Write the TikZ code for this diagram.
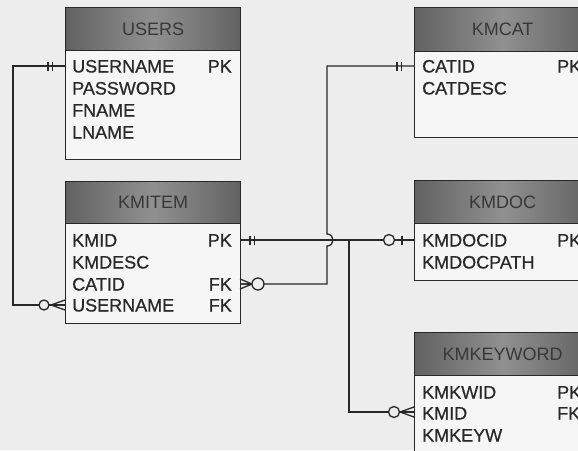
\documentclass[tikz,border=0pt]{standalone}
\usepackage{fontspec}
\setmainfont{Liberation Sans}
\newfontfamily\rowfont[BoldFont={Liberation Sans},BoldFeatures={FakeBold=0.6}]{Liberation Sans}
\usetikzlibrary{calc}
\definecolor{paper}{HTML}{EDEDED}
\definecolor{ink}{HTML}{282828}
\definecolor{boxfill}{HTML}{F6F6F6}
\definecolor{hdA}{HTML}{626262}
\definecolor{hdB}{HTML}{909090}
\definecolor{hdtext}{HTML}{383838}
\begin{document}
\begin{tikzpicture}[x=1pt,y=-1pt,
  entbox/.style={draw=ink,line width=1.3pt,fill=boxfill,anchor=north west,inner sep=0pt},
  hdrbox/.style={draw=ink,line width=1.3pt,anchor=north west,inner sep=0pt,left color=hdA,right color=hdA,middle color=hdB,text=hdtext,font=\fontsize{18}{18}\selectfont},
  fld/.style={anchor=west,inner sep=0pt,text height=13pt,text depth=0pt,text=ink,font=\rowfont\bfseries\fontsize{18}{18}\selectfont},
  keyfld/.style={fld,anchor=east},
  conn/.style={draw=ink,line width=1.3pt},
  ring/.style={draw=ink,line width=1.3pt,fill=paper}]
\useasboundingbox (0,0) rectangle (578,450);
\fill[paper] (0,0) rectangle (578,450);
\clip (0,0) rectangle (578,450);

% USERS
\node[entbox,minimum width=175pt,minimum height=152pt] (users) at (65,7) {};
\node[hdrbox,minimum width=175pt,minimum height=43pt] (usersh) at (65,7) {USERS};
\node[fld] (u1) at (72,66) {USERNAME};
\node[keyfld] (u1k) at (232,66) {PK};
\node[fld] (u2) at (72,88) {PASSWORD};
\node[fld] (u3) at (72,110) {FNAME};
\node[fld] (u4) at (72,132) {LNAME};

% KMITEM
\node[entbox,minimum width=175pt,minimum height=142pt] (kmitem) at (65,181) {};
\node[hdrbox,minimum width=175pt,minimum height=42pt] (kmitemh) at (65,181) {KMITEM};
\node[fld] (i1) at (72,240) {KMID};
\node[keyfld] (i1k) at (232,240) {PK};
\node[fld] (i2) at (72,262) {KMDESC};
\node[fld] (i3) at (72,284) {CATID};
\node[keyfld] (i3k) at (232,284) {FK};
\node[fld] (i4) at (72,305) {USERNAME};
\node[keyfld] (i4k) at (232,305) {FK};

% KMCAT
\node[entbox,minimum width=176pt,minimum height=130pt] (kmcat) at (414,7) {};
\node[hdrbox,minimum width=176pt,minimum height=44pt] (kmcath) at (414,7) {KMCAT};
\node[fld] (k1) at (422,66) {CATID};
\node[fld] (k1k) at (557,66) {PK};
\node[fld] (k2) at (422,88) {CATDESC};

% KMDOC
\node[entbox,minimum width=176pt,minimum height=100pt] (kmdoc) at (414,180) {};
\node[hdrbox,minimum width=176pt,minimum height=43pt] (kmdoch) at (414,180) {KMDOC};
\node[fld] (d1) at (422,240) {KMDOCID};
\node[fld] (d1k) at (557,240) {PK};
\node[fld] (d2) at (422,262) {KMDOCPATH};

% KMKEYWORD
\node[entbox,minimum width=176pt,minimum height=140pt] (kmkw) at (414,332) {};
\node[hdrbox,minimum width=176pt,minimum height=43pt] (kmkwh) at (414,332) {KMKEYWORD};
\node[fld] (w1) at (422,392) {KMKWID};
\node[fld] (w1k) at (557,392) {PK};
\node[fld] (w2) at (422,413) {KMID};
\node[fld] (w2k) at (557,413) {FK};
\node[fld] (w3) at (422,435) {KMKEYW};

% connector USERS -> KMITEM
\coordinate (c1) at (13,66);
\coordinate (c2) at (13,305);
\draw[conn] (users.west |- u1) -- (c1) -- (c2) -- (kmitem.west |- i4);
\draw[conn] (48,61.5) -- (48,70.5) (52.5,61.5) -- (52.5,70.5);
\draw[conn] (51,305) -- (65,300) (51,305) -- (65,305) (51,305) -- (65,310);
\draw[ring] (44,305) circle[radius=5pt];

% connector KMCAT -> KMITEM (with hop)
\coordinate (c3) at (327,66);
\coordinate (c4) at (327,284);
\draw[conn] (kmcat.west |- k1) -- (c3) -- (327,234) .. controls (335,234) and (335,246) .. (327,246) -- (c4) -- (kmitem.east |- i3);
\draw[conn] (397,61.5) -- (397,70.5) (401.5,61.5) -- (401.5,70.5);
\draw[conn] (252,284) -- (240,279) (252,284) -- (240,284) (252,284) -- (240,289);
\draw[ring] (258,284) circle[radius=6pt];

% connector KMITEM -> KMDOC
\coordinate (c5) at (349,240);
\coordinate (c6) at (349,412);
\draw[conn] (kmitem.east |- i1) -- (kmdoc.west |- d1);
\draw[conn] (250,235.5) -- (250,244.5) (254.5,235.5) -- (254.5,244.5);
\draw[ring] (389,240) circle[radius=5.5pt];
\draw[conn] (402,235.5) -- (402,244.5);

% connector KMITEM -> KMKEYWORD
\draw[conn] (c5) -- (c6) -- (kmkw.west |- c6);
\draw[conn] (400,412) -- (414,407) (400,412) -- (414,412) (400,412) -- (414,417);
\draw[ring] (394,412) circle[radius=5.5pt];
\end{tikzpicture}
\end{document}
